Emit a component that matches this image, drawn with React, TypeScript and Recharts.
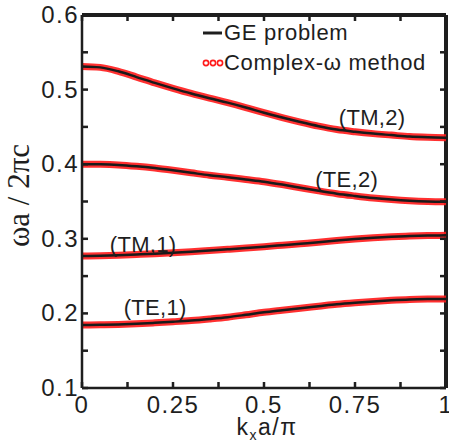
import { Line, LineChart, XAxis, YAxis, Legend, ReferenceDot, ReferenceLine } from "recharts";

const kx = [0, 0.05, 0.1, 0.15, 0.2, 0.25, 0.3, 0.35, 0.4, 0.45, 0.5, 0.55, 0.6, 0.65, 0.7, 0.75, 0.8, 0.85, 0.9, 0.95, 1];
const tm2 = [0.531, 0.5298, 0.5245, 0.5168, 0.509, 0.5017, 0.4948, 0.4885, 0.4825, 0.476, 0.469, 0.4625, 0.4565, 0.451, 0.4465, 0.4435, 0.441, 0.439, 0.437, 0.436, 0.4355];
const te2 = [0.4, 0.3998, 0.399, 0.3972, 0.3948, 0.3918, 0.3885, 0.3852, 0.3825, 0.3795, 0.3765, 0.3727, 0.3685, 0.3643, 0.3605, 0.3575, 0.3548, 0.3527, 0.3511, 0.3501, 0.3497];
const tm1 = [0.2768, 0.2772, 0.278, 0.279, 0.2801, 0.2813, 0.2827, 0.2843, 0.2859, 0.2876, 0.2894, 0.2914, 0.2934, 0.2954, 0.2976, 0.2997, 0.3014, 0.3027, 0.3036, 0.3043, 0.3046];
const te1 = [0.1845, 0.1847, 0.1852, 0.1861, 0.1874, 0.1888, 0.1904, 0.1925, 0.1949, 0.1981, 0.2015, 0.2043, 0.207, 0.2096, 0.2122, 0.2143, 0.2161, 0.2176, 0.2187, 0.2192, 0.2194];

const xTicks = [0, 0.125, 0.25, 0.375, 0.5, 0.625, 0.75, 0.875, 1];
const yTicks = [0.1, 0.15, 0.2, 0.25, 0.3, 0.35, 0.4, 0.45, 0.5, 0.55, 0.6];

const modes = [
  { key: "tm2", name: "(TM,2)", at: [0.797, 0.463] },
  { key: "te2", name: "(TE,2)", at: [0.727, 0.38] },
  { key: "tm1", name: "(TM,1)", at: [0.168, 0.293] },
  { key: "te1", name: "(TE,1)", at: [0.201, 0.208] },
];

const data = kx.map((k, i) => ({ k, tm2: tm2[i], te2: te2[i], tm1: tm1[i], te1: te1[i] }));

const W = 449;
const H = 442;
const M = { top: 15, right: 3, bottom: 0, left: 0 };
const plotTop = M.top;
const plotRight = W - M.right;

const FONT = '"Liberation Sans", Arial, Helvetica, sans-serif';
const SERIF = '"Liberation Serif", "Times New Roman", serif';
const INK = "#1e1e1e";
const RED = "#ff1a1a";
const TL = 6; // tick length, inward
const TW = 2.5; // tick width

const isMajorY = (v: number) => Math.abs(v * 10 - Math.round(v * 10)) < 1e-6;
const isMajorX = (v: number) => Math.abs(v * 4 - Math.round(v * 4)) < 1e-6;

// left axis tick: inward tick on the left and its mirror on the right edge, label on majors
function LeftTick({ x, y, payload }: any) {
  const v = payload.value as number;
  const ax = x + 8;
  return (
    <g>
      <rect x={ax} y={y - TW / 2} width={TL} height={TW} fill={INK} />
      <rect x={plotRight - TL} y={y - TW / 2} width={TL} height={TW} fill={INK} />
      {isMajorY(v) && (
        <text x={ax - 3} y={y + 8} textAnchor="end" fontFamily={FONT} fontSize={24} letterSpacing={1.5} fill={INK}>
          {v.toFixed(1)}
        </text>
      )}
    </g>
  );
}

// bottom axis tick: inward tick at bottom and its mirror at the top edge
function BottomTick({ x, y, payload }: any) {
  const v = payload.value as number;
  return (
    <g>
      <rect x={x - TW / 2} y={y - TL} width={TW} height={TL} fill={INK} />
      <rect x={x - TW / 2} y={plotTop} width={TW} height={TL} fill={INK} />
      {isMajorX(v) && (
        <text x={x} y={y + 25} textAnchor="middle" fontFamily={FONT} fontSize={24} letterSpacing={1.5} fill={INK}>
          {String(v)}
        </text>
      )}
    </g>
  );
}

function YLabel({ viewBox }: any) {
  const cx = viewBox.x + 29;
  const cy = viewBox.y + viewBox.height / 2 - 6;
  return (
    <text x={cx} y={cy} transform={`rotate(-90 ${cx} ${cy})`} textAnchor="middle" fontFamily={SERIF} fontSize={31} fill={INK}>
      ωa / 2πc
    </text>
  );
}

function XLabel({ viewBox }: any) {
  const cx = viewBox.x + viewBox.width / 2 + 3;
  const cy = viewBox.y + 47;
  return (
    <text x={cx} y={cy} textAnchor="middle" fontFamily={FONT} fontSize={23} letterSpacing={1.5} fill={INK}>
      k<tspan fontSize={14} dy={5}>x</tspan>
      <tspan dy={-5}>a/π</tspan>
    </text>
  );
}

function LegendBox() {
  const row: React.CSSProperties = { display: "flex", alignItems: "center", height: 30 };
  const text: React.CSSProperties = { fontFamily: FONT, fontSize: 22, letterSpacing: 0.7, color: INK, lineHeight: "22px" };
  return (
    <div>
      <div style={row}>
        <svg width={24} height={10}>
          <line x1={3} x2={22} y1={5} y2={5} stroke={INK} strokeWidth={3} />
        </svg>
        <span style={text}>GE problem</span>
      </div>
      <div style={row}>
        <svg width={24} height={10}>
          {[6, 13, 20].map((cx) => (
            <circle key={cx} cx={cx} cy={5} r={2.6} fill="none" stroke={RED} strokeWidth={1.6} />
          ))}
        </svg>
        <span style={text}>Complex-ω method</span>
      </div>
    </div>
  );
}

export default function App() {
  return (
    <div style={{ position: "absolute", left: 0, top: 0, background: "#fff" }}>
      <LineChart width={W} height={H} data={data} margin={M}>
        <XAxis
          dataKey="k"
          type="number"
          domain={[0, 1]}
          ticks={xTicks}
          interval={0}
          height={54}
          tickSize={0}
          tickMargin={0}
          axisLine={{ stroke: INK, strokeWidth: 2.5 }}
          tickLine={false}
          tick={<BottomTick />}
          label={<XLabel />}
        />
        <YAxis
          type="number"
          domain={[0.1, 0.6]}
          allowDataOverflow
          ticks={yTicks}
          interval={0}
          width={82}
          tickSize={0}
          tickMargin={8}
          axisLine={{ stroke: INK, strokeWidth: 2.5 }}
          tickLine={false}
          tick={<LeftTick />}
          label={<YLabel />}
        />
        <ReferenceLine y={0.6} stroke={INK} strokeWidth={4} ifOverflow="visible" />
        <ReferenceLine x={1} stroke={INK} strokeWidth={4} ifOverflow="visible" />
        {modes.map((m) => (
          <Line
            key={`r-${m.key}`}
            dataKey={m.key}
            type="monotone"
            stroke={RED}
            strokeWidth={7}
            strokeOpacity={0.9}
            dot={false}
            isAnimationActive={false}
            legendType="none"
          />
        ))}
        {modes.map((m) => (
          <Line
            key={`b-${m.key}`}
            dataKey={m.key}
            type="monotone"
            stroke="#1a1a1a"
            strokeWidth={2.5}
            dot={false}
            isAnimationActive={false}
            legendType="none"
          />
        ))}
        {modes.map((m) => (
          <ReferenceDot
            key={`l-${m.key}`}
            x={m.at[0]}
            y={m.at[1]}
            r={0}
            stroke="none"
            label={{ value: m.name, position: "center", fontFamily: FONT, fontSize: 22, letterSpacing: 0.3, fill: INK }}
          />
        ))}
        <Legend
          layout="vertical"
          align="center"
          verticalAlign="middle"
          content={<LegendBox />}
          wrapperStyle={{ left: 200, top: 18, width: 249 }}
        />
      </LineChart>
    </div>
  );
}
